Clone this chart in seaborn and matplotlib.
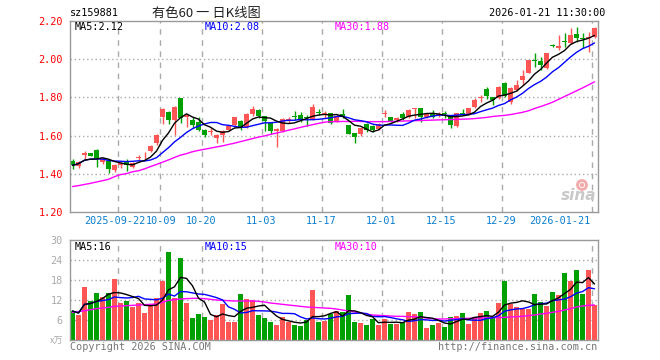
import numpy as np
import pandas as pd
import matplotlib
matplotlib.use("Agg")
import matplotlib.pyplot as plt
import matplotlib.patches as mpatches
import matplotlib.transforms as mtrans
import seaborn as sns

# ---------------- data ----------------
open_ = [1.468, 1.442, 1.496, 1.506, 1.524, 1.463, 1.468, 1.420, 1.446, 1.460,
         1.435, 1.481, 1.490, 1.519, 1.560, 1.698, 1.724, 1.680, 1.796, 1.700,
         1.682, 1.673, 1.629, 1.617, 1.585, 1.603, 1.630, 1.655, 1.677, 1.646,
         1.713, 1.736, 1.703, 1.665, 1.625, 1.625, 1.674, 1.700, 1.708, 1.695,
         1.688, 1.723, 1.707, 1.716, 1.674, 1.712, 1.656, 1.612, 1.606, 1.658,
         1.652, 1.634, 1.711, 1.696, 1.682, 1.713, 1.696, 1.742, 1.744, 1.697,
         1.717, 1.708, 1.717, 1.708, 1.650, 1.717, 1.713, 1.750, 1.795, 1.844,
         1.800, 1.798, 1.877, 1.776, 1.838, 1.893, 1.930, 1.995, 1.991, 1.953,
         2.072, 2.058, 2.093, 2.084, 2.133, 2.112, 2.114, 2.118]
high = [1.477, 1.465, 1.520, 1.510, 1.530, 1.482, 1.478, 1.448, 1.460, 1.477,
        1.462, 1.498, 1.516, 1.550, 1.608, 1.744, 1.730, 1.753, 1.798, 1.711,
        1.695, 1.696, 1.635, 1.638, 1.606, 1.630, 1.655, 1.700, 1.681, 1.721,
        1.755, 1.740, 1.705, 1.670, 1.638, 1.690, 1.697, 1.727, 1.724, 1.708,
        1.764, 1.740, 1.729, 1.720, 1.710, 1.739, 1.657, 1.614, 1.642, 1.664,
        1.655, 1.664, 1.734, 1.699, 1.699, 1.726, 1.738, 1.745, 1.746, 1.717,
        1.734, 1.722, 1.727, 1.710, 1.719, 1.738, 1.745, 1.796, 1.813, 1.857,
        1.804, 1.860, 1.879, 1.856, 1.890, 1.945, 1.998, 2.032, 2.015, 2.033,
        2.080, 2.128, 2.137, 2.163, 2.172, 2.137, 2.145, 2.168]
low = [1.423, 1.432, 1.474, 1.490, 1.437, 1.448, 1.402, 1.408, 1.430, 1.414,
       1.428, 1.472, 1.478, 1.513, 1.550, 1.661, 1.660, 1.603, 1.665, 1.647,
       1.640, 1.624, 1.590, 1.603, 1.563, 1.567, 1.625, 1.652, 1.630, 1.639,
       1.703, 1.692, 1.626, 1.608, 1.538, 1.617, 1.665, 1.683, 1.673, 1.652,
       1.682, 1.709, 1.694, 1.659, 1.672, 1.694, 1.606, 1.562, 1.598, 1.616,
       1.617, 1.628, 1.697, 1.673, 1.673, 1.684, 1.692, 1.690, 1.673, 1.690,
       1.690, 1.699, 1.690, 1.642, 1.647, 1.706, 1.708, 1.746, 1.775, 1.792,
       1.760, 1.792, 1.800, 1.764, 1.833, 1.866, 1.928, 1.962, 1.944, 1.948,
       2.063, 2.050, 2.063, 2.080, 2.093, 2.058, 2.040, 2.110]
close = [1.443, 1.462, 1.506, 1.493, 1.480, 1.475, 1.425, 1.446, 1.455, 1.446,
         1.458, 1.489, 1.495, 1.546, 1.603, 1.740, 1.684, 1.750, 1.690, 1.706,
         1.656, 1.629, 1.603, 1.625, 1.603, 1.625, 1.650, 1.695, 1.638, 1.713,
         1.738, 1.703, 1.678, 1.626, 1.634, 1.688, 1.688, 1.697, 1.683, 1.690,
         1.748, 1.719, 1.716, 1.665, 1.705, 1.700, 1.610, 1.592, 1.638, 1.629,
         1.629, 1.661, 1.715, 1.677, 1.691, 1.690, 1.734, 1.745, 1.696, 1.713,
         1.696, 1.715, 1.714, 1.655, 1.717, 1.714, 1.743, 1.785, 1.803, 1.808,
         1.785, 1.857, 1.810, 1.848, 1.866, 1.913, 1.996, 1.990, 1.970, 2.032,
         2.069, 2.072, 2.089, 2.128, 2.110, 2.108, 2.120, 2.163]
ma30_price = [1.332, 1.337, 1.343, 1.349, 1.356, 1.363, 1.370, 1.384, 1.395, 1.400,
              1.410, 1.415, 1.425, 1.437, 1.448, 1.460, 1.472, 1.485, 1.497, 1.505,
              1.515, 1.522, 1.528, 1.534, 1.540, 1.546, 1.553, 1.560, 1.568, 1.576,
              1.584, 1.592, 1.598, 1.606, 1.613, 1.620, 1.628, 1.635, 1.643, 1.650,
              1.657, 1.664, 1.670, 1.673, 1.673, 1.674, 1.674, 1.675, 1.674, 1.673,
              1.673, 1.673, 1.673, 1.674, 1.675, 1.676, 1.677, 1.678, 1.679, 1.680,
              1.681, 1.682, 1.683, 1.684, 1.685, 1.686, 1.687, 1.689, 1.692, 1.695,
              1.700, 1.703, 1.706, 1.710, 1.716, 1.722, 1.730, 1.742, 1.752, 1.763,
              1.775, 1.790, 1.805, 1.820, 1.835, 1.850, 1.866, 1.882]
volume = [8.7, 7.5, 15.9, 11.7, 14.1, 13.0, 14.1, 18.3, 11.1, 11.7,
          10.0, 11.1, 8.1, 10.5, 12.6, 17.7, 26.4, 12.6, 24.6, 11.1,
          6.6, 7.8, 6.9, 6.0, 7.5, 10.8, 5.4, 5.4, 13.8, 12.3,
          12.0, 7.5, 6.6, 5.4, 4.5, 6.9, 5.4, 4.5, 4.2, 6.0,
          15.0, 5.4, 5.7, 7.7, 8.7, 8.3, 13.5, 5.5, 5.1, 4.5,
          6.3, 4.5, 6.3, 4.8, 4.8, 5.5, 8.4, 7.8, 8.4, 3.6,
          4.5, 5.1, 3.9, 6.9, 7.2, 8.1, 4.8, 6.9, 8.1, 8.7,
          6.9, 11.1, 17.7, 10.8, 9.9, 9.3, 9.3, 13.8, 11.4, 10.2,
          14.4, 13.5, 20.1, 17.7, 21.0, 13.8, 21.0, 10.5]
ma30_volume = [8.3, 8.5, 8.8, 9.1, 9.4, 9.6, 9.8, 10.1, 10.2, 10.3,
               10.4, 10.5, 10.6, 10.7, 10.8, 11.3, 11.9, 12.1, 12.3, 12.4,
               12.5, 12.5, 12.4, 12.2, 12.0, 11.9, 11.8, 11.7, 11.7, 11.7,
               11.7, 11.6, 11.4, 11.1, 10.9, 10.7, 10.5, 10.3, 10.1, 9.9,
               9.8, 9.7, 9.6, 9.5, 9.3, 9.0, 8.7, 8.4, 8.1, 7.8,
               7.5, 7.4, 7.3, 7.2, 7.1, 7.1, 7.0, 7.0, 6.8, 6.6,
               6.4, 6.3, 6.3, 6.4, 6.4, 6.5, 6.5, 6.6, 6.6, 6.7,
               6.7, 6.7, 6.8, 6.9, 7.0, 7.1, 7.3, 7.5, 7.8, 8.0,
               8.3, 8.6, 9.0, 9.4, 9.9, 10.2, 10.4, 10.5]
date_ticks = {7.5: "2025-09-22", 14.5: "10-09", 21.5: "10-20", 31.5: "11-03",
              41.5: "11-17", 51.5: "12-01", 61.5: "12-15", 71.5: "12-29",
              86.5: "2026-01-21"}
price_ticks = [1.20, 1.40, 1.60, 1.80, 2.00, 2.20]
volume_ticks = [6, 12, 18, 24, 30]

# ---------------- style ----------------
sns.set_style("white")
plt.rcParams["font.family"] = ["DejaVu Sans Mono", "Noto Sans CJK SC"]

RED = "#FF5555"
GREEN = "#00A000"
GRID = "#AAAAAA"
FRAME = "#999999"

W, H = 660, 360
fig = plt.figure(figsize=(6.6, 3.6), dpi=100)
fig.patch.set_facecolor("white")


def fx(x):
    return x / W


def fy(y):
    return 1 - y / H


def trunc(v, d=2):
    f = 10 ** d
    return np.floor(v * f + 1e-9) / f


LEFT, RIGHT = 69.5, 597.5
ax = fig.add_axes([fx(LEFT), fy(211.7), (RIGHT - LEFT) / W, (211.7 - 21.3) / H])
axv = fig.add_axes([fx(LEFT), fy(340), (RIGHT - LEFT) / W, 100 / H])

df = pd.DataFrame({"open": open_, "high": high, "low": low, "close": close,
                   "ma30": ma30_price, "vol": volume, "vma30": ma30_volume})
df["x"] = np.arange(len(df))
df["ma5"] = df["close"].rolling(5, min_periods=1).mean()
df["ma10"] = df["close"].rolling(10, min_periods=1).mean()
df["vma5"] = df["vol"].rolling(5, min_periods=1).mean()
df["vma10"] = df["vol"].rolling(10, min_periods=1).mean()
up = df["close"] >= df["open"]
cols = np.where(up, RED, GREEN)

# grid lines
for a in (ax, axv):
    for gx in date_ticks:
        a.axvline(gx, color=GRID, lw=1, ls=(0, (4, 4)), zorder=0)
for p in price_ticks[1:-1]:
    ax.axhline(p, color=GRID, lw=1, ls=(0, (1, 2)), zorder=0)
for v in volume_ticks[:-1]:
    axv.axhline(v, color=GRID, lw=1, ls=(0, (1, 2)), zorder=0)

# candles
ax.vlines(df["x"], df["low"], df["high"], colors=cols, lw=1, zorder=2)
body_bottom = np.minimum(df["open"], df["close"])
body_h = np.maximum(np.abs(df["close"] - df["open"]), 0.005)
ax.bar(df["x"], body_h, bottom=body_bottom, width=0.8, color=cols, lw=0, zorder=2)

# price moving averages
sns.lineplot(data=df, x="x", y="ma30", color="#FF00FF", lw=1, ax=ax, zorder=3)
sns.lineplot(data=df, x="x", y="ma10", color="#0000FF", lw=1, ax=ax, zorder=3)
sns.lineplot(data=df, x="x", y="ma5", color="black", lw=1, ax=ax, zorder=3)

# volume
axv.bar(df["x"], df["vol"], width=0.8, color=cols, lw=0, zorder=2)
sns.lineplot(data=df, x="x", y="vma30", color="#FF00FF", lw=1, ax=axv, zorder=3)
sns.lineplot(data=df, x="x", y="vma10", color="#0000FF", lw=1, ax=axv, zorder=3)
sns.lineplot(data=df, x="x", y="vma5", color="black", lw=1, ax=axv, zorder=3)

for a in (ax, axv):
    a.set_xlim(-0.5, len(df) - 0.5)
    a.set_xticks([])
    a.set_xlabel("")
    a.set_ylabel("")
    for s in a.spines.values():
        s.set_color(FRAME)
        s.set_linewidth(1)
    a.tick_params(axis="y", length=0, pad=4.8, labelsize=7.3)

ax.set_ylim(price_ticks[0], price_ticks[-1])
ax.set_yticks(price_ticks)
ax.set_yticklabels([f"{p:.2f}" for p in price_ticks], color="#FF0000")
axv.set_ylim(0, 30)
axv.set_yticks(volume_ticks)
axv.set_yticklabels([str(v) for v in volume_ticks], color="#AAAAAA")

# date labels
for gx, lab in date_ticks.items():
    px = LEFT + (gx + 0.5) * 6
    ha = "center"
    if gx == 86.5:
        ha = "right"
        px -= 1
    elif gx == 7.5:
        px -= 2.5
    elif gx == 14.5:
        px += 1.5
    fig.text(fx(px), fy(221), lab, ha=ha, va="center", fontsize=7.3, color="#0A7FCF")

# header
fig.text(fx(70), fy(13), "sz159881", ha="left", va="center", fontsize=7.3, color="black")
fig.text(fx(152), fy(13), "有色60 一 日K线图", ha="left", va="center", fontsize=9.5,
         color="#222222", family=["Noto Sans CJK SC", "DejaVu Sans"])
fig.text(fx(605), fy(13), "2026-01-21 11:30:00", ha="right", va="center",
         fontsize=7.3, color="black")

# MA labels
ma_last = df.iloc[-1]
fig.text(fx(75), fy(27), f"MA5:{trunc(ma_last['ma5']):.2f}", va="center", fontsize=7.3, color="black")
fig.text(fx(205), fy(27), f"MA10:{trunc(ma_last['ma10']):.2f}", va="center", fontsize=7.3, color="#0000FF")
fig.text(fx(335), fy(27), f"MA30:{trunc(ma_last['ma30']):.2f}", va="center", fontsize=7.3, color="#FF00FF")
fig.text(fx(75), fy(247), f"MA5:{int(ma_last['vma5'])}", va="center", fontsize=7.3, color="black")
fig.text(fx(205), fy(247), f"MA10:{int(ma_last['vma10'])}", va="center", fontsize=7.3, color="#0000FF")
fig.text(fx(335), fy(247), f"MA30:{int(ma_last['vma30'])}", va="center", fontsize=7.3, color="#FF00FF")

# footer
fig.text(fx(70), fy(347), "Copyright 2026 SINA.COM", ha="left", va="center", fontsize=7.3, color="#777777")
fig.text(fx(597), fy(347), "http://finance.sina.com.cn", ha="right", va="center", fontsize=7.3, color="#777777")
fig.text(fx(63), fy(341), "x万", ha="right", va="center", fontsize=6.5, color="#AAAAAA",
         family=["Noto Sans CJK SC", "DejaVu Sans"])

# sina watermark
fig.text(fx(596), fy(196), "sina", ha="right", va="center", fontsize=11, color="#C8C8C8",
         fontweight="bold", fontstyle="italic", family=["DejaVu Sans"])
ident = mtrans.IdentityTransform()
fig.add_artist(mpatches.Circle((582, H - 185), 4.5, transform=ident, fill=False,
                               ec="#F4AAAA", lw=2))
fig.add_artist(mpatches.Circle((582, H - 185), 1.5, transform=ident, color="#F4AAAA"))

fig.savefig("out.png", dpi=100, facecolor="white")
